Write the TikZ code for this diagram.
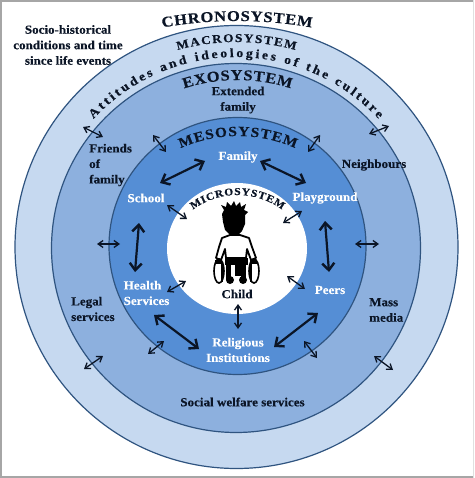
\documentclass[tikz,border=0pt]{standalone}
\usepackage{fontspec}
\setmainfont{Liberation Serif}[BoldFont={Liberation Serif Bold}]
\newfontfamily\widefont{Liberation Serif Bold}[FakeStretch=1.1,FakeBold=0.4]
\newfontfamily\bodyfont{Liberation Serif Bold}[FakeStretch=1.06,FakeBold=0.2]
\usetikzlibrary{arrows.meta,decorations.text,shapes.geometric}
\definecolor{ringa}{HTML}{C6D9F0}
\definecolor{ringb}{HTML}{8DB0DE}
\definecolor{ringc}{HTML}{558ED5}
\definecolor{ringline}{HTML}{2F5480}
\definecolor{ink}{HTML}{0B1526}
\definecolor{framegrey}{HTML}{A6A6A6}
\newcommand{\arctext}[6]{% cy, R, half-angle, font size, text, cx
  \begin{scope}[shift={(#6,#1)},y=1pt]
  \path[decorate,decoration={text along path,text align={fit to path},
    text={|\fontsize{#4}{#4}\selectfont\widefont\color{ink}|#5}}]
    ({90+#3}:#2) arc[start angle={90+#3},end angle={90-#3},radius=#2];
  \end{scope}}
\tikzset{
  ring/.style={draw=ringline,line width=1.2pt},
  lbl/.style={font=\fontsize{12.3}{15.5}\selectfont\bodyfont,text=ink,inner sep=0pt,align=center},
  lblw/.style={lbl,text=white},
  lbll/.style={lbl,align=left,anchor=west},
  thin arrow/.style={draw=ink,line width=1.3pt,{Straight Barb[length=5pt,width=7pt,line width=1.3pt]}-{Straight Barb[length=5pt,width=7pt,line width=1.3pt]}},
  thick arrow/.style={draw=ink,line width=2.2pt,{Straight Barb[length=7pt,width=12pt,line width=2.4pt]}-{Straight Barb[length=7pt,width=12pt,line width=2.4pt]}},
}
\newcommand{\arr}[6]{\coordinate (#1a) at (#3,#4);\coordinate (#1b) at (#5,#6);\draw[#2] (#1a) -- (#1b);}
\begin{document}
\begin{tikzpicture}[x=1pt,y=-1pt]
\useasboundingbox (0,0) rectangle (474,478);
\fill[white] (0,0) rectangle (474,478);
\fill[framegrey] (0,0) rectangle (474,2);
\fill[framegrey] (0,0) rectangle (2,478);
\fill[framegrey] (0,475.5) rectangle (474,478);
\fill[black!12] (472.5,0) rectangle (474,478);
% rings
\node[ring,fill=ringa,circle,minimum size=443pt,inner sep=0pt] (chrono) at (236.5,247) {};
\node[ring,fill=ringb,circle,minimum size=369pt,inner sep=0pt] (exo) at (236,248) {};
\node[ring,fill=ringc,circle,minimum size=257pt,inner sep=0pt] (meso) at (237.5,246) {};
\node[fill=white,ellipse,minimum width=140pt,minimum height=131pt,inner sep=0pt] (micro) at (237,248.5) {};
% arc titles
\arctext{451}{430}{10}{15}{CHRONOSYSTEM}{237}
\arctext{263}{221}{15.5}{12}{MACROSYSTEM}{236.5}
\arctext{252}{195}{47}{12.5}{Attitudes and ideologies of the culture}{236}
\arctext{253}{173}{18}{15}{EXOSYSTEM}{237.5}
\arctext{277}{141}{24}{14}{MESOSYSTEM}{238}
\arctext{270}{75}{36.5}{10.5}{MICROSYSTEM}{237.5}
% labels
\node[lbl] (socio) at (68,45) {Socio-historical\\conditions and time\\since life events};
\node[lbl] (ext) at (238,100) {Extended\\family};
\node[lbll] (friends) at (89,165) {Friends\\of\\family};
\node[lbl] (neigh) at (374,165) {Neighbours};
\node[lblw] (family) at (238,157) {Family};
\node[lblw] (school) at (146,198) {School};
\node[lblw] (play) at (325,198) {Playground};
\node[lbl] (child) at (237,294) {Child};
\node[lblw,align=left,anchor=west] (health) at (123.5,293) {Health\\Services};
\node[lbll] (legal) at (71,309) {Legal\\services};
\node[lblw] (peers) at (330,290) {Peers};
\node[lbll] (mass) at (369,310) {Mass\\media};
\node[lblw] (relig) at (238,350) {Religious\\Institutions};
\node[lbl] (social) at (242.5,402) {Social welfare services};
% thin arrows
\arr{t1}{thin arrow}{83}{127}{103}{137}
\arr{t2}{thin arrow}{153}{135}{166}{152}
\arr{t3}{thin arrow}{167}{205}{187}{219}
\arr{t4}{thin arrow}{369}{134}{389}{126}
\arr{t5}{thin arrow}{308}{152}{320}{135}
\arr{t6}{thin arrow}{283}{223}{302}{211}
\arr{t7}{thin arrow}{97}{244}{120}{244}
\arr{t8}{thin arrow}{355}{244}{379}{244}
\arr{t9}{thin arrow}{167}{292}{186}{281}
\arr{t10}{thin arrow}{287}{276}{305}{289}
\arr{t11}{thin arrow}{238}{304}{238}{329}
\arr{t12}{thin arrow}{148}{354}{164}{341}
\arr{t13}{thin arrow}{304}{341}{317}{358}
\arr{t14}{thin arrow}{84}{369}{103}{356}
\arr{t15}{thin arrow}{374}{356}{393}{370}
% thick arrows
\arr{k1}{thick arrow}{160}{183}{205}{161}
\arr{k2}{thick arrow}{260}{161}{306}{183}
\arr{k3}{thick arrow}{139}{223}{135}{272}
\arr{k4}{thick arrow}{325}{221}{329}{272}
\arr{k5}{thick arrow}{154}{315}{199}{349}
\arr{k6}{thick arrow}{274}{347}{318}{313}
% child figure
\fill[black] (224,210) -- (221,205) -- (226,207) -- (227,202) -- (231,206) -- (234,201) -- (236,206) -- (240,202) -- (241,207) -- (246,204) -- (244,210) -- (248,212) -- (245,215) -- (245,224) -- (242,231) -- (238,235) -- (230,235) -- (225,230) -- (223,222) -- (222,214) -- cycle;
\filldraw[fill=white,draw=black,line width=1.8pt,line join=round] (230,235) -- (222,238) -- (219,247) -- (216,258) -- (221,260) -- (225,249) -- (226,258) -- (246,258) -- (247,249) -- (251,260) -- (256,258) -- (252,247) -- (249,238) -- (240,235) -- cycle;
\draw[black,line width=1.6pt] (219,271) ellipse[x radius=5,y radius=12];
\draw[black,line width=1.6pt] (254,271) ellipse[x radius=5,y radius=12];
\fill[black] (225,258) rectangle (248,265);
\fill[black] (226,264) rectangle (231,280);
\fill[black] (241,264) rectangle (246,280);
\fill[black] (235,264) rectangle (241,276);
\fill[black] (230,280) circle[radius=4];
\fill[black] (243,280) circle[radius=4];
\fill[black] (215,260) rectangle (222,264);
\fill[black] (250,260) rectangle (257,264);
\draw[black,line width=2pt] (222,264) -- (222,282);
\draw[black,line width=2pt] (251,264) -- (251,282);
\end{tikzpicture}
\end{document}
